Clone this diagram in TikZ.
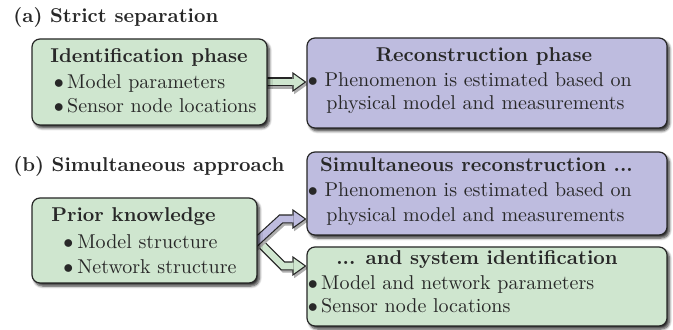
\documentclass[tikz,border=0pt]{standalone}
\usetikzlibrary{arrows.meta,shadows.blur,calc}

\definecolor{boxgreen}{RGB}{207,230,207}
\definecolor{boxviolet}{RGB}{190,188,223}
\definecolor{edgegray}{RGB}{38,38,38}
\definecolor{inkgray}{RGB}{40,40,40}

\pgfdeclarelayer{background}
\pgfsetlayers{background,main}

\begin{document}
\begin{tikzpicture}[x=0.5pt, y=-0.5pt,
  panel/.style={draw=edgegray, line width=0.6pt, rounded corners=4pt, inner sep=0pt,
    blur shadow={shadow xshift=1.2pt, shadow yshift=-1.5pt, shadow blur radius=1.3pt,
                 shadow blur steps=6, shadow opacity=80}},
  greenpanel/.style={panel, fill=boxgreen},
  violetpanel/.style={panel, fill=boxviolet},
  txt/.style={anchor=base west, inner sep=0pt, text=inkgray},
  head/.style={txt, font=\bfseries},
  headc/.style={head, anchor=base},
  fatarrow/.style={
    line join=miter,
    preaction={draw=black!32, line width=4.5pt,
      -{Triangle[length=7pt,width=10pt,line width=0pt]},
      transform canvas={xshift=0.9pt,yshift=-1.1pt}},
    draw=edgegray, line width=4.5pt,
    -{Triangle[length=7pt,width=10pt,line width=0pt]},
    postaction={draw=#1, line width=3.3pt, shorten >=1.03pt,
      -{Triangle[length=5.37pt,width=7.67pt,line width=0pt]}}
  },
]
\useasboundingbox (0,0) rectangle (673,330);

% captions
\node[head] (capA) at (13,23) {(a) Strict separation};
\node[head] (capB) at (13,172) {(b) Simultaneous approach};

% (a) two phases
\node[greenpanel, minimum width=117.5pt, minimum height=43pt] (ident) at (149.5,82) {};
\node[head] (identT) at (50,63) {Identification phase};
\node[txt] (identA) at (53.5,89) {$\bullet$\,Model parameters};
\node[txt] (identB) at (53.5,113) {$\bullet$\,Sensor node locations};

\node[violetpanel, minimum width=180pt, minimum height=45pt] (recon) at (487,83) {};
\node[headc] (reconT) at (484,62) {Reconstruction phase};
\node[txt] (reconA) at (307.5,87) {$\bullet$ Phenomenon is estimated based on};
\node[txt] (reconB) at (326,110) {physical model and measurements};

% (b) simultaneous approach
\node[greenpanel, minimum width=112.5pt, minimum height=42.5pt] (prior) at (144.5,240.5) {};
\node[head] (priorT) at (51,222) {Prior knowledge};
\node[txt] (priorA) at (63,249) {$\bullet$\hspace{2pt}Model structure};
\node[txt] (priorB) at (63,274) {$\bullet$\hspace{2pt}Network structure};

\node[violetpanel, minimum width=180pt, minimum height=41.5pt] (sim) at (487,193.5) {};
\node[headc] (simT) at (476.5,172) {Simultaneous reconstruction ...};
\node[txt] (simA) at (307.5,197) {$\bullet$ Phenomenon is estimated based on};
\node[txt] (simB) at (326,222) {physical model and measurements};

\node[greenpanel, minimum width=180pt, minimum height=39.5pt] (sys) at (487,286.5) {};
\node[headc] (sysT) at (477,265) {... and system identification};
\node[txt] (sysA) at (307.5,290) {$\bullet$\,Model and network parameters};
\node[txt] (sysB) at (307.5,313) {$\bullet$\,Sensor node locations};

% connectors, beneath the panels
\coordinate (kv) at (281,219);
\coordinate (kg) at (283,266);
\coordinate (srcA) at ($(ident.east)+(-4,0)$);
\coordinate (srcV) at ($(prior.east)!-0.35!(kv)$);
\coordinate (srcG) at ($(prior.east)!-0.35!(kg)$);
\begin{pgfonlayer}{background}
  \draw[fatarrow=boxgreen] (srcA) -- (srcA -| recon.west);
  \draw[fatarrow=boxgreen] (srcG) -- (kg) -- (kg -| sys.west);
  \draw[fatarrow=boxviolet] (srcV) -- (kv) -- (kv -| sim.west);
\end{pgfonlayer}
\end{tikzpicture}
\end{document}
